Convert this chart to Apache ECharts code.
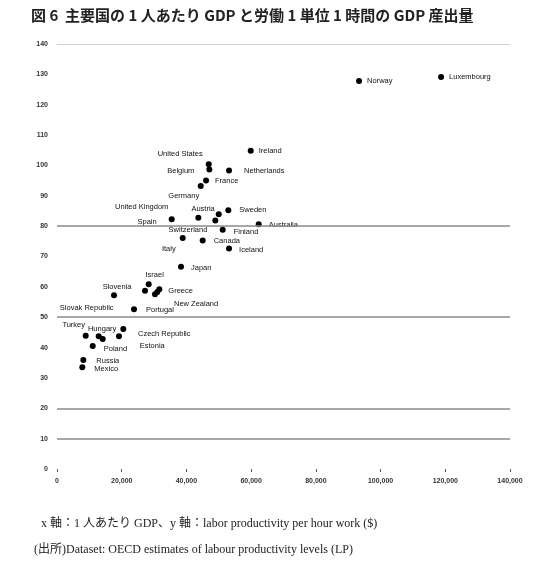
<!DOCTYPE html>
<html>
<head>
<meta charset="utf-8">
<script src="https://cdn.jsdelivr.net/npm/echarts@6/dist/echarts.min.js"></script>
<style>
  html, body { margin: 0; padding: 0; background: #fff; }
  #chart { width: 555px; height: 569px; }
</style>
</head>
<body>
<div id="chart"></div>
<script>
// 主要国の1人あたりGDP（x）と労働1時間あたりGDP（y）— 散布図
// 値は元図から目視で読み取ったもの

const COUNTRIES = [
  "Luxembourg", "Norway", "Ireland", "United States", "Belgium", "Netherlands",
  "France", "Germany", "Sweden", "Austria", "United Kingdom", "Spain",
  "Switzerland", "Australia", "Finland", "Canada", "Italy", "Iceland",
  "Japan", "Israel", "", "Greece", "", "New Zealand", "Slovenia", "Portugal",
  "Turkey", "Slovak Republic", "Estonia", "Czech Republic", "Hungary",
  "Poland", "Russia", "Mexico",
];
const GDP_PER_CAPITA = [
  118700, 93350, 59870, 46890, 47080, 53170,
  46060, 44420, 52950, 49980, 43680, 35450,
  48930, 62340, 51210, 45030, 38850, 53170,
  38330, 28340, 27200, 31620, 31000, 30290, 17620, 23800,
  8870, 12890, 14130, 19160, 20490,
  11040, 8130, 7820,
];
const GDP_PER_HOUR = [
  129.1, 127.8, 104.8, 100.4, 98.7, 98.3,
  95.0, 93.2, 85.2, 83.9, 82.8, 82.3,
  81.9, 80.6, 78.8, 75.3, 76.1, 72.6,
  66.6, 60.9, 58.7, 59.2, 58.3, 57.6, 57.2, 52.6,
  43.9, 43.7, 42.8, 43.7, 46.1,
  40.5, 35.9, 33.5,
];
const X_TICKS = [0, 20000, 40000, 60000, 80000, 100000, 120000, 140000];
const Y_TICKS = [0, 10, 20, 30, 40, 50, 60, 70, 80, 90, 100, 110, 120, 130, 140];
// 元図で見えている横線だけ
const GUIDE_LINES = [140, 80, 50, 20, 10];

// ラベル配置 [position, dx, dy]
const LABEL_LAYOUT = {
  "United States":  ["left", 2, -10],
  "Belgium":        ["left", -7, 2],
  "Netherlands":    ["right", 7, 0],
  "France":         ["right", 1, 0],
  "Germany":        ["bottom", -17, -2],
  "United Kingdom": ["left", -22, -11],
  "Austria":        ["left", 4, -5],
  "Sweden":         ["right", 3, 0],
  "Spain":          ["left", -7, 3],
  "Switzerland":    ["left", 0, 10],
  "Australia":      ["right", 2, 1],
  "Finland":        ["right", 3, 2],
  "Canada":         ["right", 3, 1],
  "Italy":          ["left", 1, 11],
  "Iceland":        ["right", 2, 1],
  "Japan":          ["right", 2, 1],
  "Israel":         ["top", 6, 3],
  "Greece":         ["right", 1, 2],
  "New Zealand":    ["right", 11, 10],
  "Slovenia":       ["top", 3, 4],
  "Slovak Republic":["top", -12, -16],
  "Portugal":       ["right", 4, 1],
  "Turkey":         ["top", -12, 1],
  "Hungary":        ["left", 1, 0],
  "Czech Republic": ["right", 11, -2],
  "Estonia":        ["right", 29, 7],
  "Poland":         ["right", 3, 3],
  "Russia":         ["right", 5, 1],
  "Mexico":         ["right", 4, 2],
};

const chart = echarts.init(document.getElementById("chart"));

const points = COUNTRIES.map((name, i) => {
  const lay = LABEL_LAYOUT[name] || ["right", 0, 0];
  return {
    name,
    value: [GDP_PER_CAPITA[i], GDP_PER_HOUR[i]],
    label: {
      show: name !== "",
      position: lay[0],
      offset: [lay[1], lay[2]],
    },
  };
});

const guideMark = {
  silent: true, symbol: "none", animation: false,
  label: { show: false },
  data: GUIDE_LINES.map(v => ({
    yAxis: v,
    lineStyle: v === 140
      ? { color: "#cfcfcf", width: 1, type: "solid" }
      : { color: "#8a8a8a", width: 1.5, type: "solid" },
  })),
};

const fmtNum = v => String(v).replace(/\B(?=(\d{3})+(?!\d))/g, ",");
const axisFont = { color: "#333", fontSize: 7, fontWeight: "bold", fontFamily: "Liberation Sans, Arial, sans-serif" };

chart.setOption({
  backgroundColor: "#fff",
  animation: false,
  title: [
    { text: "図 6  主要国の 1 人あたり GDP と労働 1 単位 1 時間の GDP 産出量",
      left: 26, top: 3,
      textStyle: { fontSize: 15, fontWeight: "bold", color: "#222",
                   fontFamily: "Noto Sans CJK JP, sans-serif" } },
    { text: "x 軸：1 人あたり GDP、y 軸：labor productivity per hour work ($)",
      left: 36, top: 513,
      textStyle: { fontSize: 12, fontWeight: "normal", color: "#222",
                   fontFamily: "Liberation Serif, Noto Sans CJK JP, serif" } },
    { text: "(出所)Dataset: OECD estimates of labour productivity levels (LP)",
      left: 29, top: 539,
      textStyle: { fontSize: 12, fontWeight: "normal", color: "#222",
                   fontFamily: "Liberation Serif, Noto Sans CJK JP, serif" } },
  ],
  grid: { left: 57, right: 45, top: 44, bottom: 100, containLabel: false },
  xAxis: {
    type: "value", min: X_TICKS[0], max: X_TICKS[X_TICKS.length - 1],
    interval: X_TICKS[1] - X_TICKS[0],
    axisLine: { show: false },
    axisTick: { show: true, length: 3, lineStyle: { color: "#555" } },
    splitLine: { show: false },
    axisLabel: { ...axisFont, margin: 9, formatter: v => fmtNum(v) },
  },
  yAxis: {
    type: "value", min: Y_TICKS[0], max: Y_TICKS[Y_TICKS.length - 1],
    interval: Y_TICKS[1] - Y_TICKS[0],
    axisLine: { show: false },
    axisTick: { show: false },
    splitLine: { show: false },
    axisLabel: { ...axisFont, margin: 9 },
  },
  series: [{
    type: "scatter",
    data: points,
    symbol: "circle",
    symbolSize: 6,
    itemStyle: { color: "#000", opacity: 1 },
    label: {
      formatter: p => p.name,
      color: "#111", fontSize: 7.5, distance: 5,
      fontFamily: "Liberation Sans, Arial, sans-serif",
    },
    markLine: guideMark,
    z: 3,
  }],
});
</script>
</body>
</html>
